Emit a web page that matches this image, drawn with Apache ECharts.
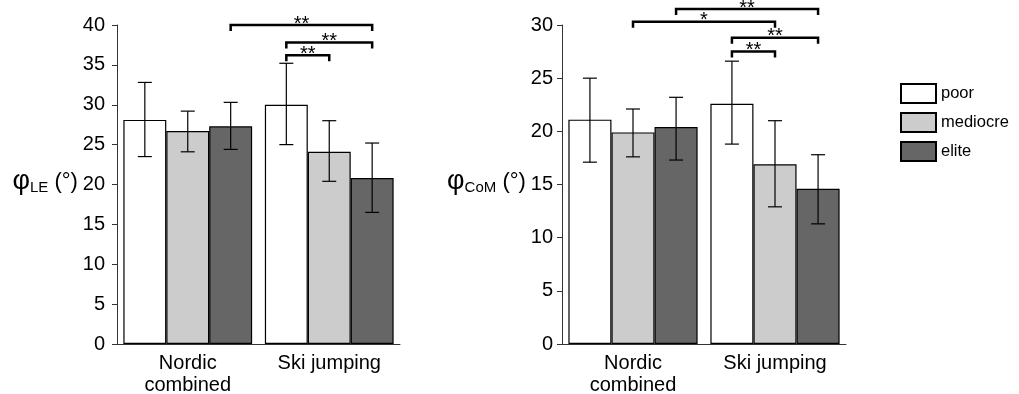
<!DOCTYPE html>
<html><head><meta charset="utf-8">
<script src="https://cdn.jsdelivr.net/npm/echarts@6/dist/echarts.min.js"></script>
<style>html,body{margin:0;padding:0;background:#fff}#c{width:1019px;height:394px}</style>
</head><body><div id="c"></div>
<script>
// ---- data ----
const categories = ['Nordic\ncombined', 'Ski jumping'];
const groups = ['poor', 'mediocre', 'elite'];
const groupColors = ['#ffffff', '#cccccc', '#666666'];

// Left panel: φLE (°) — per group [Nordic combined, Ski jumping]
const leMean = [[28.1, 30.0], [26.7, 24.1], [27.3, 20.8]];
const leLow  = [[23.5, 25.0], [24.1, 20.4], [24.4, 16.5]];
const leHigh = [[32.8, 35.2], [29.2, 28.0], [30.3, 25.2]];
// brackets: [cat1, group1, cat2, group2, level]
const leBrackets = [[0, 2, 1, 2, 40.0], [1, 0, 1, 2, 37.8], [1, 0, 1, 1, 36.2]];
const leStars = ['**', '**', '**'];
const leMax = 40, leStep = 5;

// Right panel: φCoM (°)
const comMean = [[21.1, 22.6], [19.9, 16.9], [20.4, 14.6]];
const comLow  = [[17.1, 18.8], [17.6, 12.9], [17.3, 11.3]];
const comHigh = [[25.0, 26.6], [22.1, 21.0], [23.2, 17.8]];
const comBrackets = [[0, 2, 1, 2, 31.5], [0, 1, 1, 1, 30.3], [1, 0, 1, 2, 28.8], [1, 0, 1, 1, 27.5]];
const comStars = ['**', '*', '**', '**'];
const comMax = 30, comStep = 5;

// ---- chart ----
const FONT = '"Liberation Sans", Arial, sans-serif';
const CAT_GAP = 0.09;
const chart = echarts.init(document.getElementById('c'));

function barOffset(api, g) {
  const band = api.size([1, 0])[0];
  const bw = band * (1 - CAT_GAP) / 3;
  return (g - 1) * bw;
}

function makeAxes(idx, max, step, nameSub, nameGap, labelMargin) {
  const axisColor = '#333';
  const x = {
    type: 'category', gridIndex: idx, data: categories,
    axisLine: { lineStyle: { color: axisColor, width: 1 } },
    axisTick: { length: 5, lineStyle: { color: axisColor, width: 1 } },
    axisLabel: { fontSize: 20, color: '#000', fontFamily: FONT, lineHeight: 22, margin: 8 }
  };
  const y = {
    type: 'value', gridIndex: idx, min: 0, max: max, interval: step,
    splitLine: { show: false },
    axisLine: { show: true, lineStyle: { color: axisColor, width: 1 } },
    axisTick: { show: true, length: 5, lineStyle: { color: axisColor, width: 1 } },
    axisLabel: { fontSize: 20, color: '#000', fontFamily: FONT, margin: labelMargin },
    name: '{phi|φ}{sub|' + nameSub + '}{deg| (°)}',
    nameLocation: 'middle', nameRotate: 0, nameGap: nameGap,
    nameTextStyle: {
      align: 'right', verticalAlign: 'middle', color: '#000', fontFamily: FONT,
      padding: [0, 0, 6, 0],
      rich: {
        phi: { fontSize: 27, fontFamily: FONT, color: '#000' },
        sub: { fontSize: 15, fontFamily: FONT, color: '#000', verticalAlign: 'bottom' },
        deg: { fontSize: 22, fontFamily: FONT, color: '#000' }
      }
    }
  };
  return [x, y];
}

const axL = makeAxes(0, leMax, leStep, 'LE', 37, 12);
const axR = makeAxes(1, comMax, comStep, 'CoM', 21, 9);

const series = [];
function addPanel(idx, mean, low, high, brackets, stars) {
  groups.forEach((g, gi) => {
    series.push({
      type: 'bar', name: g, xAxisIndex: idx, yAxisIndex: idx,
      data: mean[gi], barGap: '0%', barCategoryGap: (CAT_GAP * 100) + '%',
      itemStyle: { color: groupColors[gi], borderColor: '#000', borderWidth: 1.2 },
      emphasis: { disabled: true }, z: 2
    });
  });
  groups.forEach((g, gi) => {
    const errData = mean[gi].map((_, ci) => [ci, low[gi][ci], high[gi][ci]]);
    series.push({
      type: 'custom', xAxisIndex: idx, yAxisIndex: idx, z: 5, silent: true,
      data: errData,
      renderItem: (params, api) => {
        const c = api.value(0);
        const off = barOffset(api, gi);
        const pLo = api.coord([c, api.value(1)]);
        const pHi = api.coord([c, api.value(2)]);
        const x = pLo[0] + off;
        const cap = 7;
        const st = { stroke: '#000', lineWidth: 1.2 };
        return { type: 'group', children: [
          { type: 'line', shape: { x1: x, y1: pLo[1], x2: x, y2: pHi[1] }, style: st },
          { type: 'line', shape: { x1: x - cap, y1: pLo[1], x2: x + cap, y2: pLo[1] }, style: st },
          { type: 'line', shape: { x1: x - cap, y1: pHi[1], x2: x + cap, y2: pHi[1] }, style: st }
        ] };
      }
    });
  });
  series.push({
    type: 'custom', xAxisIndex: idx, yAxisIndex: idx, z: 6, silent: true, clip: false,
    data: brackets,
    renderItem: (params, api) => {
      const c1 = api.value(0), g1 = api.value(1), c2 = api.value(2), g2 = api.value(3), lv = api.value(4);
      const p1 = api.coord([c1, lv]), p2 = api.coord([c2, lv]);
      const x1 = p1[0] + barOffset(api, g1), x2 = p2[0] + barOffset(api, g2);
      const y = p1[1], leg = 6;
      return { type: 'group', children: [
        { type: 'polyline', shape: { points: [[x1, y + leg], [x1, y], [x2, y], [x2, y + leg]] },
          style: { stroke: '#000', lineWidth: 2.5, fill: null, lineJoin: 'miter' } },
        { type: 'text', style: { x: (x1 + x2) / 2, y: y - 1, text: stars[params.dataIndex],
          fontSize: 20, fontFamily: FONT, fill: '#000', align: 'center', verticalAlign: 'middle' } }
      ] };
    }
  });
}
addPanel(0, leMean, leLow, leHigh, leBrackets, leStars);
addPanel(1, comMean, comLow, comHigh, comBrackets, comStars);

chart.setOption({
  animation: false,
  backgroundColor: '#fff',
  grid: [
    { left: 117, top: 25, width: 283, height: 319, outerBoundsMode: 'none', containLabel: false },
    { left: 562, top: 25, width: 284, height: 319, outerBoundsMode: 'none', containLabel: false }
  ],
  xAxis: [axL[0], axR[0]],
  yAxis: [axL[1], axR[1]],
  legend: {
    data: groups, orient: 'vertical', left: 895, top: 78,
    itemWidth: 35, itemHeight: 19, itemGap: 8, icon: 'rect',
    textStyle: { fontSize: 16.5, color: '#000', fontFamily: FONT },
    selectedMode: false
  },
  series: series
});
</script>
</body></html>
